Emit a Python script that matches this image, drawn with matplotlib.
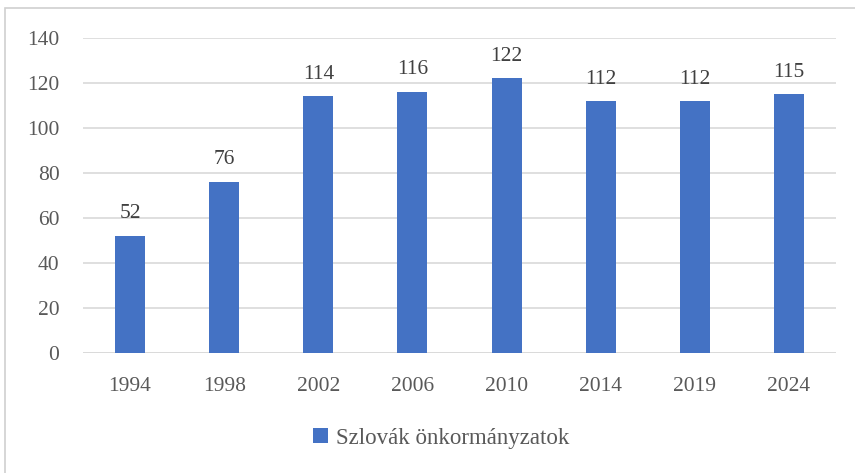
import matplotlib
matplotlib.use("Agg")
from matplotlib import pyplot as plt
from matplotlib.patches import Rectangle

years = ['1994', '1998', '2002', '2006', '2010', '2014', '2019', '2024']
values = [52, 76, 114, 116, 122, 112, 112, 115]
series_name = 'Szlovák önkormányzatok'

bar_color = '#4472C4'
text_color = '#595959'
grid_color = '#d9d9d9'

plt.rcParams['font.family'] = ['Liberation Serif', 'DejaVu Serif']

fig = plt.figure(figsize=(8.55, 4.73), dpi=100)
ax = fig.add_axes([83 / 855, 1 - 353 / 473, (836 - 83) / 855, (353 - 38) / 473])

x = range(len(years))
bars = ax.bar(x, values, width=0.32, color=bar_color, label=series_name, zorder=3)

for xi, v in zip(x, values):
    ax.annotate(str(v), (xi, v), xytext=(0, 9), textcoords='offset points',
                ha='center', va='bottom', fontsize=15.5, color='#404040')

ax.set_xlim(-0.5, len(years) - 0.5)
ax.set_ylim(0, 140)
ax.set_yticks(range(0, 141, 20))
ax.set_xticks(list(x))
ax.set_xticklabels(years)
ax.yaxis.grid(True, color=grid_color, linewidth=1.2, zorder=0)
ax.tick_params(axis='both', length=0, labelsize=15.5, colors=text_color)
ax.tick_params(axis='y', pad=17)
ax.tick_params(axis='x', pad=17)
for s in ax.spines.values():
    s.set_visible(False)
ax.axhline(0, color=grid_color, linewidth=1.2, zorder=2)

fig.legend(loc='center', bbox_to_anchor=(0.516, 1 - 438 / 473), frameon=False,
           fontsize=16.5, labelcolor=text_color, handlelength=0.65, handleheight=0.65,
           handletextpad=0.35)

# outer chart border (cut off on the right and bottom)
fig.patches.append(Rectangle((5 / 855, -0.05), 1.0, 1 - 8 / 473 + 0.05,
                             transform=fig.transFigure, fill=False,
                             edgecolor='#d0d0d0', linewidth=1.2))

fig.savefig('out.png', dpi=100)
